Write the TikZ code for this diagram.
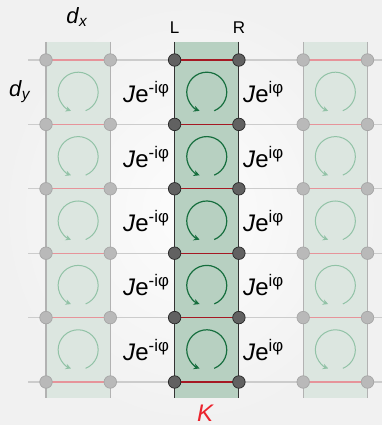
\documentclass[tikz,border=0pt]{standalone}
\usepackage{fontspec}
\setmainfont{Liberation Sans}
\usetikzlibrary{arrows.meta,positioning,calc}
\definecolor{stripout}{RGB}{220,230,224}
\definecolor{stripin}{RGB}{183,208,193}
\definecolor{flowout}{RGB}{145,194,166}
\definecolor{flowin}{RGB}{22,110,62}
\definecolor{bondred}{RGB}{165,25,35}
\definecolor{bondpink}{RGB}{230,148,154}
\definecolor{kred}{RGB}{235,35,45}

\begin{document}
\begin{tikzpicture}[x=1pt,y=1pt,
    site/.style={circle,inner sep=0pt,minimum size=12.5pt,
                 fill=gray!55,draw=gray!70,line width=0.7pt},
    sitek/.style={site,fill=black!62,draw=black!85},
    hop/.style={gray!40,line width=1.2pt},
    bond/.style={bondpink,line width=1.3pt},
    bondk/.style={bondred,line width=1.3pt},
    edge/.style={gray!60,line width=1.1pt},
    edgek/.style={black!80,line width=1.1pt},
    flow/.style={flowout,line width=1pt,-{Stealth[length=5.5pt,width=5.5pt]}},
    flowk/.style={flowin,line width=1.2pt,-{Stealth[length=6pt,width=6pt]}},
    jlab/.style={inner sep=0pt,font=\fontsize{24}{26}\selectfont},
    axlab/.style={inner sep=0pt,font=\fontsize{17}{19}\selectfont},
  ]
    % background
    \useasboundingbox (0,0) rectangle (382,425);
    \shade[inner color=gray!2,outer color=gray!11] (0,0) rectangle (382,425);

    % strips
    \fill[stripout] (46,27) rectangle (110.3,383);
    \fill[stripin]  (174.6,27) rectangle (238.9,383);
    \fill[stripout] (303.2,27) rectangle (367.5,383);

    % lattice sites
    \foreach \i in {0,...,5}{
      \coordinate (top-\i) at (46+64.3*\i,383);
      \coordinate (bot-\i) at (46+64.3*\i,27);
    }
    \foreach \j in {0,...,5}{
      \coordinate (lend-\j) at (28,365-64.4*\j);
      \coordinate (rend-\j) at (382,365-64.4*\j);
      \foreach \i in {0,...,5}
        \coordinate (n-\i-\j) at (46+64.3*\i,365-64.4*\j);
    }

    % hoppings
    \foreach \j in {0,...,5}{
      \draw[hop] (lend-\j) -- (n-0-\j);
      \draw[hop] (n-1-\j) -- (n-2-\j);
      \draw[hop] (n-3-\j) -- (n-4-\j);
      \draw[hop] (n-5-\j) -- (rend-\j);
      \draw[bond] (n-0-\j) -- (n-1-\j);
      \draw[bondk] (n-2-\j) -- (n-3-\j);
      \draw[bond] (n-4-\j) -- (n-5-\j);
    }
    \foreach \i in {0,1,4,5}
      \draw[edge] (top-\i) -- (bot-\i);
    \foreach \i in {2,3}
      \draw[edgek] (top-\i) -- (bot-\i);

    % plaquette fluxes
    \foreach \j [evaluate=\j as \k using int(\j+1)] in {0,...,4}{
      \foreach \i in {0,4}
        \draw[flow] ($(n-\i-\j)!.5!(n-\i-\k)+(32.15,0)$) +(-68:20)
          arc[start angle=-68,end angle=249,radius=20];
      \draw[flowk] ($(n-2-\j)!.5!(n-2-\k)+(32.15,0)$) +(-68:20)
        arc[start angle=-68,end angle=249,radius=20];
      \node[jlab,left=5pt of {$(n-2-\j)!.5!(n-2-\k)$}] (jl-\j)
        {\textit{J}e\textsuperscript{-iφ}};
      \node[jlab,right=4pt of {$(n-3-\j)!.5!(n-3-\k)$}] (jr-\j)
        {\textit{J}e\textsuperscript{iφ}};
    }

    \foreach \j in {0,...,5}{
      \foreach \i in {0,1,4,5}
        \node[site] (s-\i-\j) at (n-\i-\j) {};
      \foreach \i in {2,3}
        \node[sitek] (s-\i-\j) at (n-\i-\j) {};
    }

    % labels
    \node[jlab,font=\fontsize{22}{24}\selectfont] (dx) at (77,408)
      {\textit{d}\textsubscript{\textit{x}}};
    \node[jlab,font=\fontsize{22}{24}\selectfont] (dy) at (20,333)
      {\textit{d}\textsubscript{\textit{y}}};
    \node[axlab,above=8pt of top-2] (lL) {L};
    \node[axlab,above=8pt of top-3] (lR) {R};
    \node[jlab,kred] (kk) at (205.5,12)
      {\textit{K}};
  \end{tikzpicture}
\end{document}
